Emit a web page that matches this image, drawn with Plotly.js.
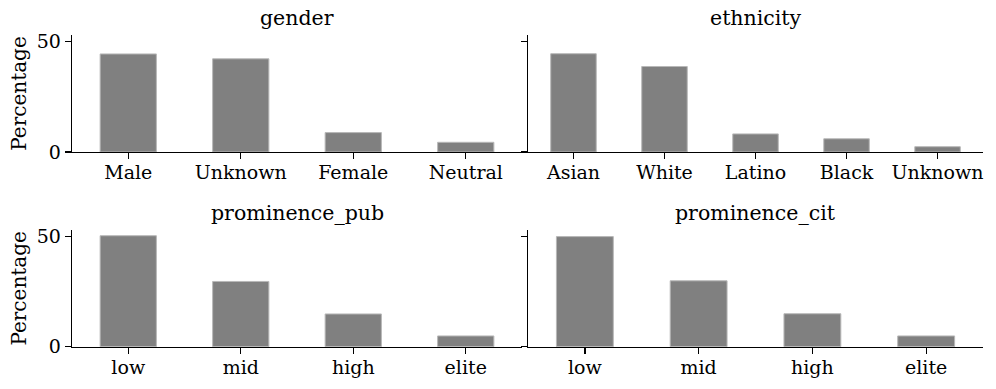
<!DOCTYPE html>
<html>
<head>
<meta charset="utf-8">
<script src="https://cdn.plot.ly/plotly-3.0.1.min.js"></script>
<style>html,body{margin:0;padding:0;background:#fff;}</style>
</head>
<body>
<div id="chart" style="width:996px;height:389px;"></div>
<script>
// percentages
var genderCats = ['Male', 'Unknown', 'Female', 'Neutral'];
var genderVals = [44.5, 42.3, 8.8, 4.4];

var ethnicityCats = ['Asian', 'White', 'Latino', 'Black', 'Unknown'];
var ethnicityVals = [44.6, 38.8, 8.2, 6.0, 2.4];

var pubCats = ['low', 'mid', 'high', 'elite'];
var pubVals = [50.5, 29.7, 14.9, 4.9];

var citCats = ['low', 'mid', 'high', 'elite'];
var citVals = [50.1, 30.0, 15.0, 4.9];

var panels = [
    {name: 'gender', cats: genderCats, vals: genderVals},
    {name: 'ethnicity', cats: ethnicityCats, vals: ethnicityVals},
    {name: 'prominence_pub', cats: pubCats, vals: pubVals},
    {name: 'prominence_cit', cats: citCats, vals: citVals}
];

var FONT = 'DejaVu Serif, serif';
var xDomains = [[0.0723, 0.5241], [0.5301, 0.9870]];
var yDomains = [[0.6093, 0.9100], [0.1087, 0.4087]];
var yMax = 53.1;

var data = [];
var layout = {
    width: 996,
    height: 389,
    margin: {l: 0, r: 0, t: 0, b: 0},
    paper_bgcolor: '#fff',
    plot_bgcolor: '#fff',
    showlegend: false,
    bargap: 0.5,
    font: {family: FONT, size: 19, color: '#000'},
    annotations: []
};

panels.forEach(function (p, i) {
    var col = i % 2, row = Math.floor(i / 2);
    var n = i + 1;
    var xa = 'xaxis' + (n === 1 ? '' : n), ya = 'yaxis' + (n === 1 ? '' : n);
    data.push({
        type: 'bar',
        x: p.cats,
        y: p.vals,
        xaxis: 'x' + (n === 1 ? '' : n),
        yaxis: 'y' + (n === 1 ? '' : n),
        marker: {color: '#808080', line: {color: '#b8b8b8', width: 1}},
        hoverinfo: 'x+y'
    });
    layout[xa] = {
        domain: xDomains[col],
        anchor: 'y' + (n === 1 ? '' : n),
        range: [-0.5, p.cats.length - 0.5],
        showline: true, linecolor: '#000', linewidth: 1.3,
        ticks: 'outside', ticklen: 6, tickwidth: 1.3, tickcolor: '#000',
        ticklabelstandoff: -3,
        showgrid: false, zeroline: false,
        tickfont: {family: FONT, size: 19, color: '#000'},
        fixedrange: true
    };
    layout[ya] = {
        domain: yDomains[row],
        anchor: 'x' + (n === 1 ? '' : n),
        range: [0, yMax],
        tickvals: [0, 50],
        showticklabels: col === 0,
        showline: true, linecolor: '#000', linewidth: 1.3,
        ticks: 'outside', ticklen: 6, tickwidth: 1.3, tickcolor: '#000',
        showgrid: false, zeroline: false,
        tickfont: {family: FONT, size: 19, color: '#000'},
        title: col === 0 ? {text: 'Percentage', font: {family: FONT, size: 20, color: '#000'}, standoff: 4} : undefined,
        fixedrange: true
    };
    layout.annotations.push({
        text: p.name,
        xref: 'paper', yref: 'paper',
        x: (xDomains[col][0] + xDomains[col][1]) / 2,
        y: yDomains[row][1],
        xanchor: 'center', yanchor: 'bottom',
        yshift: 3,
        showarrow: false,
        font: {family: FONT, size: 20.5, color: '#000'}
    });
});

Plotly.newPlot('chart', data, layout, {displayModeBar: false, staticPlot: true});
</script>
</body>
</html>
